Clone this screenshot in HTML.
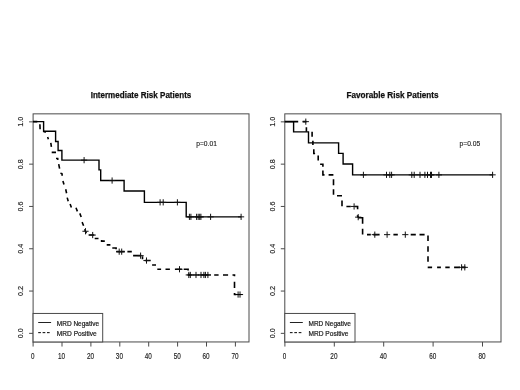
<!DOCTYPE html>
<html><head><meta charset="utf-8"><title>Survival by MRD status</title>
<style>
html,body{margin:0;padding:0;background:#fff;}
svg{display:block;font-family:"Liberation Sans",sans-serif;}
</style></head>
<body>
<svg width="520" height="390" viewBox="0 0 520 390">
<rect width="520" height="390" fill="#fff"/>
<g transform="translate(0.3,0.35)">
<rect x="32.8" y="113.5" width="215.89999999999998" height="228.10000000000002" fill="none" stroke="#4a4a4a" stroke-width="1"/>
<line x1="28.799999999999997" y1="121.5" x2="32.8" y2="121.5" stroke="#4a4a4a" stroke-width="1"/>
<text transform="translate(23.099999999999998,121.5) rotate(-90)" text-anchor="middle" font-size="7.9" fill="#1c1c1c" stroke="#1c1c1c" stroke-width="0.15" textLength="10" lengthAdjust="spacingAndGlyphs">1.0</text>
<line x1="28.799999999999997" y1="163.8" x2="32.8" y2="163.8" stroke="#4a4a4a" stroke-width="1"/>
<text transform="translate(23.099999999999998,163.8) rotate(-90)" text-anchor="middle" font-size="7.9" fill="#1c1c1c" stroke="#1c1c1c" stroke-width="0.15" textLength="10" lengthAdjust="spacingAndGlyphs">0.8</text>
<line x1="28.799999999999997" y1="206.1" x2="32.8" y2="206.1" stroke="#4a4a4a" stroke-width="1"/>
<text transform="translate(23.099999999999998,206.1) rotate(-90)" text-anchor="middle" font-size="7.9" fill="#1c1c1c" stroke="#1c1c1c" stroke-width="0.15" textLength="10" lengthAdjust="spacingAndGlyphs">0.6</text>
<line x1="28.799999999999997" y1="248.39999999999998" x2="32.8" y2="248.39999999999998" stroke="#4a4a4a" stroke-width="1"/>
<text transform="translate(23.099999999999998,248.39999999999998) rotate(-90)" text-anchor="middle" font-size="7.9" fill="#1c1c1c" stroke="#1c1c1c" stroke-width="0.15" textLength="10" lengthAdjust="spacingAndGlyphs">0.4</text>
<line x1="28.799999999999997" y1="290.7" x2="32.8" y2="290.7" stroke="#4a4a4a" stroke-width="1"/>
<text transform="translate(23.099999999999998,290.7) rotate(-90)" text-anchor="middle" font-size="7.9" fill="#1c1c1c" stroke="#1c1c1c" stroke-width="0.15" textLength="10" lengthAdjust="spacingAndGlyphs">0.2</text>
<line x1="28.799999999999997" y1="333.0" x2="32.8" y2="333.0" stroke="#4a4a4a" stroke-width="1"/>
<text transform="translate(23.099999999999998,333.0) rotate(-90)" text-anchor="middle" font-size="7.9" fill="#1c1c1c" stroke="#1c1c1c" stroke-width="0.15" textLength="10" lengthAdjust="spacingAndGlyphs">0.0</text>
<line x1="32.8" y1="341.6" x2="32.8" y2="346.20000000000005" stroke="#4a4a4a" stroke-width="1"/>
<text x="32.4" y="358.9" text-anchor="middle" font-size="8.2" fill="#1c1c1c" stroke="#1c1c1c" stroke-width="0.15" textLength="3.5" lengthAdjust="spacingAndGlyphs">0</text>
<line x1="61.699999999999996" y1="341.6" x2="61.699999999999996" y2="346.20000000000005" stroke="#4a4a4a" stroke-width="1"/>
<text x="61.3" y="358.9" text-anchor="middle" font-size="8.2" fill="#1c1c1c" stroke="#1c1c1c" stroke-width="0.15" textLength="7.1" lengthAdjust="spacingAndGlyphs">10</text>
<line x1="90.6" y1="341.6" x2="90.6" y2="346.20000000000005" stroke="#4a4a4a" stroke-width="1"/>
<text x="90.19999999999999" y="358.9" text-anchor="middle" font-size="8.2" fill="#1c1c1c" stroke="#1c1c1c" stroke-width="0.15" textLength="7.1" lengthAdjust="spacingAndGlyphs">20</text>
<line x1="119.49999999999999" y1="341.6" x2="119.49999999999999" y2="346.20000000000005" stroke="#4a4a4a" stroke-width="1"/>
<text x="119.09999999999998" y="358.9" text-anchor="middle" font-size="8.2" fill="#1c1c1c" stroke="#1c1c1c" stroke-width="0.15" textLength="7.1" lengthAdjust="spacingAndGlyphs">30</text>
<line x1="148.39999999999998" y1="341.6" x2="148.39999999999998" y2="346.20000000000005" stroke="#4a4a4a" stroke-width="1"/>
<text x="147.99999999999997" y="358.9" text-anchor="middle" font-size="8.2" fill="#1c1c1c" stroke="#1c1c1c" stroke-width="0.15" textLength="7.1" lengthAdjust="spacingAndGlyphs">40</text>
<line x1="177.3" y1="341.6" x2="177.3" y2="346.20000000000005" stroke="#4a4a4a" stroke-width="1"/>
<text x="176.9" y="358.9" text-anchor="middle" font-size="8.2" fill="#1c1c1c" stroke="#1c1c1c" stroke-width="0.15" textLength="7.1" lengthAdjust="spacingAndGlyphs">50</text>
<line x1="206.2" y1="341.6" x2="206.2" y2="346.20000000000005" stroke="#4a4a4a" stroke-width="1"/>
<text x="205.79999999999998" y="358.9" text-anchor="middle" font-size="8.2" fill="#1c1c1c" stroke="#1c1c1c" stroke-width="0.15" textLength="7.1" lengthAdjust="spacingAndGlyphs">60</text>
<line x1="235.09999999999997" y1="341.6" x2="235.09999999999997" y2="346.20000000000005" stroke="#4a4a4a" stroke-width="1"/>
<text x="234.69999999999996" y="358.9" text-anchor="middle" font-size="8.2" fill="#1c1c1c" stroke="#1c1c1c" stroke-width="0.15" textLength="7.1" lengthAdjust="spacingAndGlyphs">70</text>
<text x="140.7" y="98" text-anchor="middle" font-size="8.7" font-weight="bold" fill="#111" stroke="#111" stroke-width="0.25" textLength="100.7" lengthAdjust="spacingAndGlyphs">Intermediate Risk Patients</text>
<text x="195.9" y="145.55" font-size="7.8" fill="#1c1c1c" stroke="#1c1c1c" stroke-width="0.15" textLength="20.7" lengthAdjust="spacingAndGlyphs">p=0.01</text>
<path d="M32.8 121.3 H37 M39.6 123.9 L39.8 128.9 M43.3 131.3 L45.8 131.7 M47.3 136.7 L48.1 138.9 M50.5 142.6 L51.1 146.6 M51.4 152 H55.7 M55.7 158.2 H57.4 L57.6 159.6 M58.4 163.8 L59.3 168.3 M60.1 172.8 L61.6 173.2 L62 175.4 M62.6 180.6 L63.7 184.2 M65.4 188.9 L66.3 192.9 M66.9 197.3 L67.9 200.9 M69.8 203.6 L71.1 207.2 M75.7 207.4 L77.1 211 M79.5 213 L80.9 216.6 M81.8 221.8 L83.3 225.4 M84.3 228.9 L86 232.9 M88.3 234.7 H94 M94.4 238.2 H98.2 M101.3 239.6 V240.8 H104.5 M106.4 244.5 H110.1 M112 247.7 H115.8 V249 M116 251.3 H124.4 M127.1 251.3 H131.5 M132.8 255.3 H141 M142.2 255.8 V259 M144.5 260.2 H150.4 M151.8 264.6 H155.7 M157 268.9 H160.8 M165.2 268.9 H169.6 M174.6 268.9 H181.5 M183.4 268.9 H187.8 V270.2 M188.4 273.2 V274.6 H189.5 M213.9 274.6 H218.3 M222.7 274.6 H227.8 M232.2 274.6 H234.2 V276 M234.2 281.4 V287.7 M234.2 292.6 V294.2 H236" fill="none" stroke="#000" stroke-width="1.6"/>
<line x1="85.2" y1="227.8" x2="85.2" y2="234.0" stroke="#111" stroke-width="1.0"/><line x1="82.10000000000001" y1="230.9" x2="88.3" y2="230.9" stroke="#111" stroke-width="1.0"/><line x1="92.4" y1="231.6" x2="92.4" y2="237.79999999999998" stroke="#111" stroke-width="1.0"/><line x1="89.30000000000001" y1="234.7" x2="95.5" y2="234.7" stroke="#111" stroke-width="1.0"/><line x1="118.9" y1="248.20000000000002" x2="118.9" y2="254.4" stroke="#111" stroke-width="1.0"/><line x1="121.4" y1="248.20000000000002" x2="121.4" y2="254.4" stroke="#111" stroke-width="1.0"/><line x1="115.80000000000001" y1="251.3" x2="122.0" y2="251.3" stroke="#111" stroke-width="1.0"/><line x1="118.30000000000001" y1="251.3" x2="124.5" y2="251.3" stroke="#111" stroke-width="1.0"/><line x1="140.3" y1="252.20000000000002" x2="140.3" y2="258.40000000000003" stroke="#111" stroke-width="1.0"/><line x1="137.20000000000002" y1="255.3" x2="143.4" y2="255.3" stroke="#111" stroke-width="1.0"/><line x1="146.2" y1="257.09999999999997" x2="146.2" y2="263.3" stroke="#111" stroke-width="1.0"/><line x1="143.1" y1="260.2" x2="149.29999999999998" y2="260.2" stroke="#111" stroke-width="1.0"/><line x1="179.2" y1="265.79999999999995" x2="179.2" y2="272.0" stroke="#111" stroke-width="1.0"/><line x1="176.1" y1="268.9" x2="182.29999999999998" y2="268.9" stroke="#111" stroke-width="1.0"/><line x1="188.5" y1="271.5" x2="188.5" y2="277.70000000000005" stroke="#111" stroke-width="1.0"/><line x1="190" y1="271.5" x2="190" y2="277.70000000000005" stroke="#111" stroke-width="1.0"/><line x1="195.7" y1="271.5" x2="195.7" y2="277.70000000000005" stroke="#111" stroke-width="1.0"/><line x1="200.7" y1="271.5" x2="200.7" y2="277.70000000000005" stroke="#111" stroke-width="1.0"/><line x1="203.6" y1="271.5" x2="203.6" y2="277.70000000000005" stroke="#111" stroke-width="1.0"/><line x1="205.1" y1="271.5" x2="205.1" y2="277.70000000000005" stroke="#111" stroke-width="1.0"/><line x1="207.6" y1="271.5" x2="207.6" y2="277.70000000000005" stroke="#111" stroke-width="1.0"/><line x1="185.4" y1="274.6" x2="191.6" y2="274.6" stroke="#111" stroke-width="1.0"/><line x1="186.9" y1="274.6" x2="193.1" y2="274.6" stroke="#111" stroke-width="1.0"/><line x1="192.6" y1="274.6" x2="198.79999999999998" y2="274.6" stroke="#111" stroke-width="1.0"/><line x1="197.6" y1="274.6" x2="203.79999999999998" y2="274.6" stroke="#111" stroke-width="1.0"/><line x1="200.5" y1="274.6" x2="206.7" y2="274.6" stroke="#111" stroke-width="1.0"/><line x1="202.0" y1="274.6" x2="208.2" y2="274.6" stroke="#111" stroke-width="1.0"/><line x1="204.5" y1="274.6" x2="210.7" y2="274.6" stroke="#111" stroke-width="1.0"/><line x1="237.8" y1="291.09999999999997" x2="237.8" y2="297.3" stroke="#111" stroke-width="1.0"/><line x1="239.7" y1="291.09999999999997" x2="239.7" y2="297.3" stroke="#111" stroke-width="1.0"/><line x1="234.70000000000002" y1="294.2" x2="240.9" y2="294.2" stroke="#111" stroke-width="1.0"/><line x1="236.6" y1="294.2" x2="242.79999999999998" y2="294.2" stroke="#111" stroke-width="1.0"/><path d="M188.4 274.6 H210.6 M234.2 294.2 H242" fill="none" stroke="#000" stroke-width="1.1"/>
<path d="M32.8 121.3 H43.3 V130.9 H55.3 V141.1 H57.8 V150.1 H61.6 V159.8 H98.7 V169.5 H100.4 V180.2 H123.8 V190.7 H144.1 V202 H185.9 V216.5 H240.8" fill="none" stroke="#000" stroke-width="1.4"/>
<line x1="83.8" y1="156.70000000000002" x2="83.8" y2="162.9" stroke="#111" stroke-width="1.0"/><line x1="80.7" y1="159.8" x2="86.89999999999999" y2="159.8" stroke="#111" stroke-width="1.0"/><line x1="111.8" y1="177.1" x2="111.8" y2="183.29999999999998" stroke="#111" stroke-width="1.0"/><line x1="108.7" y1="180.2" x2="114.89999999999999" y2="180.2" stroke="#111" stroke-width="1.0"/><line x1="159.8" y1="198.9" x2="159.8" y2="205.1" stroke="#111" stroke-width="1.0"/><line x1="162.9" y1="198.9" x2="162.9" y2="205.1" stroke="#111" stroke-width="1.0"/><line x1="177.1" y1="198.9" x2="177.1" y2="205.1" stroke="#111" stroke-width="1.0"/><line x1="156.70000000000002" y1="202" x2="162.9" y2="202" stroke="#111" stroke-width="1.0"/><line x1="159.8" y1="202" x2="166.0" y2="202" stroke="#111" stroke-width="1.0"/><line x1="174.0" y1="202" x2="180.2" y2="202" stroke="#111" stroke-width="1.0"/><line x1="189.1" y1="213.4" x2="189.1" y2="219.6" stroke="#111" stroke-width="1.0"/><line x1="190.6" y1="213.4" x2="190.6" y2="219.6" stroke="#111" stroke-width="1.0"/><line x1="196.3" y1="213.4" x2="196.3" y2="219.6" stroke="#111" stroke-width="1.0"/><line x1="197.9" y1="213.4" x2="197.9" y2="219.6" stroke="#111" stroke-width="1.0"/><line x1="199.4" y1="213.4" x2="199.4" y2="219.6" stroke="#111" stroke-width="1.0"/><line x1="200.6" y1="213.4" x2="200.6" y2="219.6" stroke="#111" stroke-width="1.0"/><line x1="210.3" y1="213.4" x2="210.3" y2="219.6" stroke="#111" stroke-width="1.0"/><line x1="240.8" y1="213.4" x2="240.8" y2="219.6" stroke="#111" stroke-width="1.0"/><line x1="186.0" y1="216.5" x2="192.2" y2="216.5" stroke="#111" stroke-width="1.0"/><line x1="187.5" y1="216.5" x2="193.7" y2="216.5" stroke="#111" stroke-width="1.0"/><line x1="193.20000000000002" y1="216.5" x2="199.4" y2="216.5" stroke="#111" stroke-width="1.0"/><line x1="194.8" y1="216.5" x2="201.0" y2="216.5" stroke="#111" stroke-width="1.0"/><line x1="196.3" y1="216.5" x2="202.5" y2="216.5" stroke="#111" stroke-width="1.0"/><line x1="197.5" y1="216.5" x2="203.7" y2="216.5" stroke="#111" stroke-width="1.0"/><line x1="207.20000000000002" y1="216.5" x2="213.4" y2="216.5" stroke="#111" stroke-width="1.0"/><line x1="237.70000000000002" y1="216.5" x2="243.9" y2="216.5" stroke="#111" stroke-width="1.0"/>
<rect x="32.8" y="313.1" width="69.60000000000001" height="28.5" fill="#fff" stroke="#4a4a4a" stroke-width="1"/>
<line x1="37.9" y1="322.15" x2="50.8" y2="322.15" stroke="#222" stroke-width="1"/>
<line x1="37.9" y1="332.3" x2="50.8" y2="332.3" stroke="#000" stroke-width="1" stroke-dasharray="2.7 1.7"/>
<text x="56.5" y="325.6" font-size="7.5" fill="#1c1c1c" stroke="#1c1c1c" stroke-width="0.22" textLength="42.3" lengthAdjust="spacingAndGlyphs">MRD Negative</text>
<text x="56.5" y="335.3" font-size="7.5" fill="#1c1c1c" stroke="#1c1c1c" stroke-width="0.22" textLength="40" lengthAdjust="spacingAndGlyphs">MRD Positive</text>
</g>
<g transform="translate(0,0.35)">
<rect x="284.8" y="113.5" width="216.2" height="228.10000000000002" fill="none" stroke="#4a4a4a" stroke-width="1"/>
<line x1="280.8" y1="121.5" x2="284.8" y2="121.5" stroke="#4a4a4a" stroke-width="1"/>
<text transform="translate(275.1,121.5) rotate(-90)" text-anchor="middle" font-size="7.9" fill="#1c1c1c" stroke="#1c1c1c" stroke-width="0.15" textLength="10" lengthAdjust="spacingAndGlyphs">1.0</text>
<line x1="280.8" y1="163.8" x2="284.8" y2="163.8" stroke="#4a4a4a" stroke-width="1"/>
<text transform="translate(275.1,163.8) rotate(-90)" text-anchor="middle" font-size="7.9" fill="#1c1c1c" stroke="#1c1c1c" stroke-width="0.15" textLength="10" lengthAdjust="spacingAndGlyphs">0.8</text>
<line x1="280.8" y1="206.1" x2="284.8" y2="206.1" stroke="#4a4a4a" stroke-width="1"/>
<text transform="translate(275.1,206.1) rotate(-90)" text-anchor="middle" font-size="7.9" fill="#1c1c1c" stroke="#1c1c1c" stroke-width="0.15" textLength="10" lengthAdjust="spacingAndGlyphs">0.6</text>
<line x1="280.8" y1="248.39999999999998" x2="284.8" y2="248.39999999999998" stroke="#4a4a4a" stroke-width="1"/>
<text transform="translate(275.1,248.39999999999998) rotate(-90)" text-anchor="middle" font-size="7.9" fill="#1c1c1c" stroke="#1c1c1c" stroke-width="0.15" textLength="10" lengthAdjust="spacingAndGlyphs">0.4</text>
<line x1="280.8" y1="290.7" x2="284.8" y2="290.7" stroke="#4a4a4a" stroke-width="1"/>
<text transform="translate(275.1,290.7) rotate(-90)" text-anchor="middle" font-size="7.9" fill="#1c1c1c" stroke="#1c1c1c" stroke-width="0.15" textLength="10" lengthAdjust="spacingAndGlyphs">0.2</text>
<line x1="280.8" y1="333.0" x2="284.8" y2="333.0" stroke="#4a4a4a" stroke-width="1"/>
<text transform="translate(275.1,333.0) rotate(-90)" text-anchor="middle" font-size="7.9" fill="#1c1c1c" stroke="#1c1c1c" stroke-width="0.15" textLength="10" lengthAdjust="spacingAndGlyphs">0.0</text>
<line x1="284.9" y1="341.6" x2="284.9" y2="346.20000000000005" stroke="#4a4a4a" stroke-width="1"/>
<text x="284.5" y="358.9" text-anchor="middle" font-size="8.2" fill="#1c1c1c" stroke="#1c1c1c" stroke-width="0.15" textLength="3.5" lengthAdjust="spacingAndGlyphs">0</text>
<line x1="334.29999999999995" y1="341.6" x2="334.29999999999995" y2="346.20000000000005" stroke="#4a4a4a" stroke-width="1"/>
<text x="333.9" y="358.9" text-anchor="middle" font-size="8.2" fill="#1c1c1c" stroke="#1c1c1c" stroke-width="0.15" textLength="7.1" lengthAdjust="spacingAndGlyphs">20</text>
<line x1="383.7" y1="341.6" x2="383.7" y2="346.20000000000005" stroke="#4a4a4a" stroke-width="1"/>
<text x="383.3" y="358.9" text-anchor="middle" font-size="8.2" fill="#1c1c1c" stroke="#1c1c1c" stroke-width="0.15" textLength="7.1" lengthAdjust="spacingAndGlyphs">40</text>
<line x1="433.09999999999997" y1="341.6" x2="433.09999999999997" y2="346.20000000000005" stroke="#4a4a4a" stroke-width="1"/>
<text x="432.7" y="358.9" text-anchor="middle" font-size="8.2" fill="#1c1c1c" stroke="#1c1c1c" stroke-width="0.15" textLength="7.1" lengthAdjust="spacingAndGlyphs">60</text>
<line x1="482.5" y1="341.6" x2="482.5" y2="346.20000000000005" stroke="#4a4a4a" stroke-width="1"/>
<text x="482.1" y="358.9" text-anchor="middle" font-size="8.2" fill="#1c1c1c" stroke="#1c1c1c" stroke-width="0.15" textLength="7.1" lengthAdjust="spacingAndGlyphs">80</text>
<text x="392.5" y="98" text-anchor="middle" font-size="8.7" font-weight="bold" fill="#111" stroke="#111" stroke-width="0.25" textLength="92" lengthAdjust="spacingAndGlyphs">Favorable Risk Patients</text>
<text x="459.5" y="145.55" font-size="7.8" fill="#1c1c1c" stroke="#1c1c1c" stroke-width="0.15" textLength="20.7" lengthAdjust="spacingAndGlyphs">p=0.05</text>
<path d="M284.8 121.3 H298.2 M302.6 121.3 H306.4 M306.4 126.9 V131.3 M312.1 131.3 V136.3 M312.9 140.3 V144.7 M313.8 148.8 V153.2 H315.1 M318.2 155.1 V160.1 M320.1 163.9 H322.9 V166.4 M322.9 170.2 V174.5 H324.5 M328.6 174.5 H333.4 M333.5 179 V184.9 M333.5 188.9 V194.5 M337 195.4 H342 M342 200.2 V205.8 M346.4 206.1 H350.8 M355 206.1 H357.6 V208.8 M357.2 215 L358.6 217.4 H362.6 V223.3 M362.6 228.3 V234.2 M367 234.3 H370.8 M373.3 234.3 H379.6 M393.4 234.3 H397.8 M410.7 234.3 H415.8 M419.5 234.3 H424.6 M428 235.1 V240.7 M428 245.8 V251.4 M428 255.8 V261.5 M427.7 267 H432.1 M437.1 267 H440.9 M445.3 267 H449.7 M454.1 267 H460 M462 267 H465.6" fill="none" stroke="#000" stroke-width="1.6"/>
<line x1="305.8" y1="118.2" x2="305.8" y2="124.39999999999999" stroke="#111" stroke-width="1.0"/><line x1="302.7" y1="121.3" x2="308.90000000000003" y2="121.3" stroke="#111" stroke-width="1.0"/><line x1="354.1" y1="203.0" x2="354.1" y2="209.2" stroke="#111" stroke-width="1.0"/><line x1="351.0" y1="206.1" x2="357.20000000000005" y2="206.1" stroke="#111" stroke-width="1.0"/><line x1="358.2" y1="213.70000000000002" x2="358.2" y2="219.9" stroke="#111" stroke-width="1.0"/><line x1="355.09999999999997" y1="216.8" x2="361.3" y2="216.8" stroke="#111" stroke-width="1.0"/><line x1="374.8" y1="231.20000000000002" x2="374.8" y2="237.4" stroke="#111" stroke-width="1.0"/><line x1="387.1" y1="231.20000000000002" x2="387.1" y2="237.4" stroke="#111" stroke-width="1.0"/><line x1="405.3" y1="231.20000000000002" x2="405.3" y2="237.4" stroke="#111" stroke-width="1.0"/><line x1="371.7" y1="234.3" x2="377.90000000000003" y2="234.3" stroke="#111" stroke-width="1.0"/><line x1="384.0" y1="234.3" x2="390.20000000000005" y2="234.3" stroke="#111" stroke-width="1.0"/><line x1="402.2" y1="234.3" x2="408.40000000000003" y2="234.3" stroke="#111" stroke-width="1.0"/><line x1="461.6" y1="263.9" x2="461.6" y2="270.1" stroke="#111" stroke-width="1.0"/><line x1="464.8" y1="263.9" x2="464.8" y2="270.1" stroke="#111" stroke-width="1.0"/><line x1="458.5" y1="267" x2="464.70000000000005" y2="267" stroke="#111" stroke-width="1.0"/><line x1="461.7" y1="267" x2="467.90000000000003" y2="267" stroke="#111" stroke-width="1.0"/>
<path d="M284.8 121.3 H293.6 V131.5 H308.5 V142.5 H338.6 V153 H343.1 V163.6 H352.6 V174.5 H492.6" fill="none" stroke="#000" stroke-width="1.4"/>
<line x1="363.4" y1="171.4" x2="363.4" y2="177.6" stroke="#111" stroke-width="1.0"/><line x1="386.5" y1="171.4" x2="386.5" y2="177.6" stroke="#111" stroke-width="1.0"/><line x1="389.8" y1="171.4" x2="389.8" y2="177.6" stroke="#111" stroke-width="1.0"/><line x1="391.6" y1="171.4" x2="391.6" y2="177.6" stroke="#111" stroke-width="1.0"/><line x1="411.8" y1="171.4" x2="411.8" y2="177.6" stroke="#111" stroke-width="1.0"/><line x1="414.2" y1="171.4" x2="414.2" y2="177.6" stroke="#111" stroke-width="1.0"/><line x1="420" y1="171.4" x2="420" y2="177.6" stroke="#111" stroke-width="1.0"/><line x1="424.9" y1="171.4" x2="424.9" y2="177.6" stroke="#111" stroke-width="1.0"/><line x1="427.5" y1="171.4" x2="427.5" y2="177.6" stroke="#111" stroke-width="1.0"/><line x1="430.5" y1="171.4" x2="430.5" y2="177.6" stroke="#111" stroke-width="1.0"/><line x1="431.5" y1="171.4" x2="431.5" y2="177.6" stroke="#111" stroke-width="1.0"/><line x1="438.9" y1="171.4" x2="438.9" y2="177.6" stroke="#111" stroke-width="1.0"/><line x1="492.6" y1="171.4" x2="492.6" y2="177.6" stroke="#111" stroke-width="1.0"/><line x1="360.29999999999995" y1="174.5" x2="366.5" y2="174.5" stroke="#111" stroke-width="1.0"/><line x1="383.4" y1="174.5" x2="389.6" y2="174.5" stroke="#111" stroke-width="1.0"/><line x1="386.7" y1="174.5" x2="392.90000000000003" y2="174.5" stroke="#111" stroke-width="1.0"/><line x1="388.5" y1="174.5" x2="394.70000000000005" y2="174.5" stroke="#111" stroke-width="1.0"/><line x1="408.7" y1="174.5" x2="414.90000000000003" y2="174.5" stroke="#111" stroke-width="1.0"/><line x1="411.09999999999997" y1="174.5" x2="417.3" y2="174.5" stroke="#111" stroke-width="1.0"/><line x1="416.9" y1="174.5" x2="423.1" y2="174.5" stroke="#111" stroke-width="1.0"/><line x1="421.79999999999995" y1="174.5" x2="428.0" y2="174.5" stroke="#111" stroke-width="1.0"/><line x1="424.4" y1="174.5" x2="430.6" y2="174.5" stroke="#111" stroke-width="1.0"/><line x1="427.4" y1="174.5" x2="433.6" y2="174.5" stroke="#111" stroke-width="1.0"/><line x1="428.4" y1="174.5" x2="434.6" y2="174.5" stroke="#111" stroke-width="1.0"/><line x1="435.79999999999995" y1="174.5" x2="442.0" y2="174.5" stroke="#111" stroke-width="1.0"/><line x1="489.5" y1="174.5" x2="495.70000000000005" y2="174.5" stroke="#111" stroke-width="1.0"/>
<rect x="284.8" y="313.1" width="70.19999999999999" height="28.5" fill="#fff" stroke="#4a4a4a" stroke-width="1"/>
<line x1="289.90000000000003" y1="322.15" x2="302.8" y2="322.15" stroke="#222" stroke-width="1"/>
<line x1="289.90000000000003" y1="332.3" x2="302.8" y2="332.3" stroke="#000" stroke-width="1" stroke-dasharray="2.7 1.7"/>
<text x="308.5" y="325.6" font-size="7.5" fill="#1c1c1c" stroke="#1c1c1c" stroke-width="0.22" textLength="42.3" lengthAdjust="spacingAndGlyphs">MRD Negative</text>
<text x="308.5" y="335.3" font-size="7.5" fill="#1c1c1c" stroke="#1c1c1c" stroke-width="0.22" textLength="40" lengthAdjust="spacingAndGlyphs">MRD Positive</text>
</g>
</svg>
</body></html>
